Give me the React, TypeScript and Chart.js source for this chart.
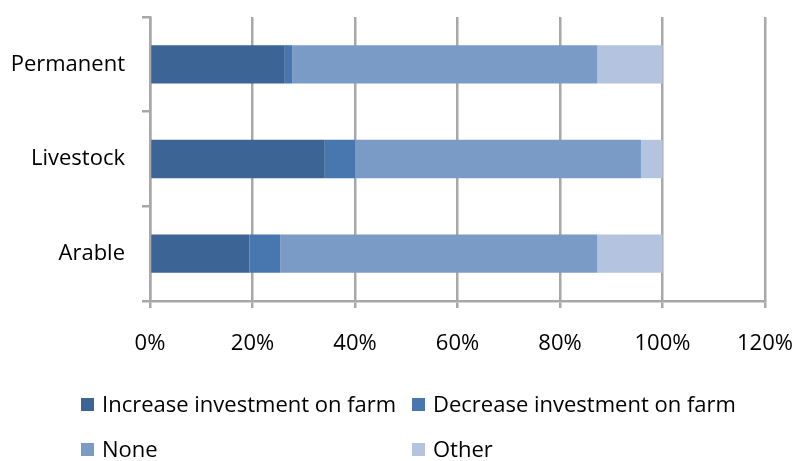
import { useEffect, useRef } from "react";
import { Chart, registerables } from "chart.js";

Chart.register(...registerables);

// Farm types, listed top to bottom
const categories = ["Permanent", "Livestock", "Arable"];

// Share of responses (%) per farm type
const increaseInvestment = [26.3, 34.1, 19.4];
const decreaseInvestment = [1.5, 5.9, 6.0];
const noneResponse = [59.5, 55.8, 61.9];
const otherResponse = [12.7, 4.2, 12.7];

const seriesLabels = [
  "Increase investment on farm",
  "Decrease investment on farm",
  "None",
  "Other",
];
const seriesColors = ["#3C6595", "#4877AF", "#7B9BC7", "#B4C3DF"];

const xTickValues = [0, 20, 40, 60, 80, 100, 120];

const FONT_FAMILY = "'Open Sans', 'Noto Sans', sans-serif";
const FONT_SIZE = 22;
const AXIS_GREY = "#a8a8a8";

// Scales keep no extra edge padding; the layout padding alone sets the plot box
const clearScalePadding = (scale: any) => {
  scale.paddingTop = 0;
  scale.paddingBottom = 0;
  scale.paddingLeft = 0;
  scale.paddingRight = 0;
};

// Two-column legend drawn under the plot
const gridLegend = {
  id: "gridLegend",
  afterDraw(chart: any) {
    const ctx = chart.ctx as CanvasRenderingContext2D;
    const colX = [81, 412];
    const rowY = [405, 450];
    ctx.save();
    ctx.font = `${FONT_SIZE}px ${FONT_FAMILY}`;
    ctx.textBaseline = "middle";
    ctx.textAlign = "left";
    chart.data.datasets.forEach((ds: any, i: number) => {
      const x = colX[i % 2];
      const y = rowY[Math.floor(i / 2)];
      ctx.fillStyle = ds.backgroundColor;
      ctx.fillRect(x, y - 7, 13, 13);
      ctx.fillStyle = "#000";
      ctx.fillText(ds.label, x + 21, y + 1);
    });
    ctx.restore();
  },
};

export default function App() {
  const canvasRef = useRef<HTMLCanvasElement | null>(null);

  useEffect(() => {
    const canvas = canvasRef.current;
    if (!canvas) return;
    const seriesValues = [increaseInvestment, decreaseInvestment, noneResponse, otherResponse];

    const chart = new Chart(canvas, {
      type: "bar",
      data: {
        labels: categories,
        datasets: seriesValues.map((values, i) => ({
          label: seriesLabels[i],
          data: values,
          backgroundColor: seriesColors[i],
          borderWidth: 0,
          barPercentage: 0.405,
          categoryPercentage: 1,
        })),
      },
      options: {
        indexAxis: "y",
        responsive: false,
        animation: false,
        layout: { padding: { top: 17, right: 32, bottom: 100, left: 0 } },
        plugins: {
          legend: { display: false },
          tooltip: { enabled: false },
        },
        scales: {
          x: {
            stacked: true,
            min: 0,
            max: 120,
            afterBuildTicks: (scale: any) => {
              scale.ticks = xTickValues.map((v) => ({ value: v }));
            },
            afterFit: (scale: any) => {
              scale.height = 60;
              clearScalePadding(scale);
            },
            grid: {
              color: AXIS_GREY,
              lineWidth: 2.5,
              tickLength: 7,
              drawTicks: true,
            },
            border: { display: true, color: AXIS_GREY, width: 2.5 },
            ticks: {
              color: "#000",
              padding: 23,
              font: { family: FONT_FAMILY, size: FONT_SIZE },
              callback: (v: any) => `${v}%`,
            },
          },
          y: {
            stacked: true,
            afterFit: (scale: any) => {
              scale.width = 150;
              clearScalePadding(scale);
            },
            grid: {
              offset: true,
              drawOnChartArea: false,
              drawTicks: true,
              tickLength: 8,
              color: AXIS_GREY,
              lineWidth: 2.5,
            },
            border: { display: true, color: AXIS_GREY, width: 2.5 },
            ticks: {
              color: "#000",
              padding: 17,
              font: { family: FONT_FAMILY, size: FONT_SIZE },
            },
          },
        },
      },
      plugins: [gridLegend],
    });

    return () => chart.destroy();
  }, []);

  return (
    <div style={{ position: "absolute", left: 0, top: 0, width: 797, height: 461, background: "#fff" }}>
      <canvas ref={canvasRef} width={797} height={461} style={{ display: "block" }} />
    </div>
  );
}
